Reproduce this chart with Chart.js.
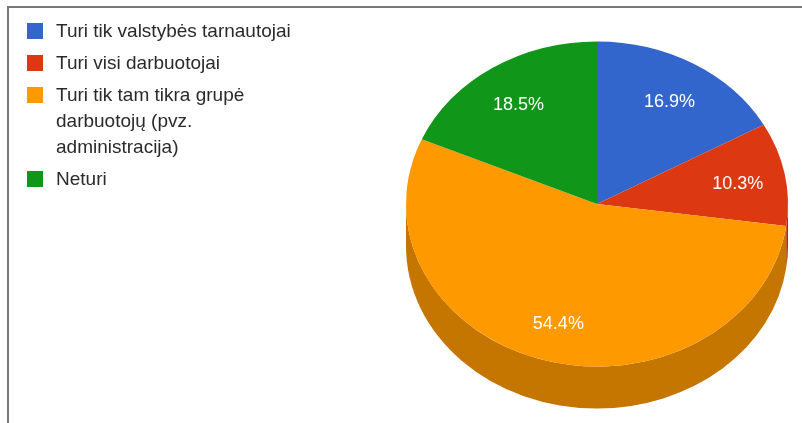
<!DOCTYPE html>
<html lang="lt">
<head>
<meta charset="UTF-8">
<title>Pasiskirstymas</title>
<script src="https://cdn.jsdelivr.net/npm/chart.js"></script>
<style>
  body { margin: 0; background: #fff; font-family: Arial, "Liberation Sans", sans-serif; }
  #wrap { position: relative; width: 802px; height: 423px; overflow: hidden; }
  #frame { position: absolute; left: 7px; top: 6px; right: -4px; bottom: -4px;
           border-top: 2px solid #777; border-left: 2px solid #777; }
  #grafikas { position: absolute; left: 0; top: 0; }
  #legenda { position: absolute; left: 27px; top: 18px; margin: 0; padding: 0; list-style: none; }
  #legenda li { position: relative; padding-left: 29px; width: 250px; font-size: 19px;
                line-height: 26px; color: #2a2a2a; margin-bottom: 6px; }
  #legenda span { position: absolute; left: 0; top: 5px; width: 16px; height: 16px; }
</style>
</head>
<body>
<div id="wrap">
  <div id="frame"></div>
  <canvas id="grafikas" width="802" height="423"></canvas>
  <ul id="legenda"></ul>
</div>

<script>
    const kategorijos = [
        'Turi tik valstybės tarnautojai',
        'Turi visi darbuotojai',
        'Turi tik tam tikra grupė darbuotojų (pvz. administracija)',
        'Neturi'
    ];
    const procentai = [16.9, 10.3, 54.4, 18.5];
    const spalvos = ['#3366cc', '#dc3912', '#ff9900', '#109618'];
    const soniniai = ['#284f9e', '#a82b0d', '#c47600', '#0c7312'];

    // pie looks tilted: top is squashed vertically, front rim drawn below it
    const suspaudimas = 0.851;
    const gylis = 42;

    const legenda = document.getElementById('legenda');
    kategorijos.forEach(function (k, i) {
        const li = document.createElement('li');
        const sp = document.createElement('span');
        sp.style.background = spalvos[i];
        li.appendChild(sp);
        li.appendChild(document.createTextNode(k));
        legenda.appendChild(li);
    });

    const trimatis = {
        id: 'trimatis',
        beforeDatasetsDraw(chart) {
            const ctx = chart.ctx;
            const lankai = chart.getDatasetMeta(0).data;
            const cx = lankai[0].x, cy = lankai[0].y, r = lankai[0].outerRadius;
            const ry = r * suspaudimas;
            // front rim
            lankai.forEach(function (a, i) {
                let s = a.startAngle, e = a.endAngle;
                [0, 2 * Math.PI, -2 * Math.PI].forEach(function (p) {
                    const a0 = Math.max(s, p), a1 = Math.min(e, p + Math.PI);
                    if (a1 <= a0) return;
                    ctx.beginPath();
                    ctx.ellipse(cx, cy, r, ry, 0, a0, a1);
                    ctx.ellipse(cx, cy + gylis, r, ry, 0, a1, a0, true);
                    ctx.closePath();
                    ctx.fillStyle = soniniai[i];
                    ctx.fill();
                });
            });
            ctx.save();
            ctx.translate(cx, cy);
            ctx.scale(1, suspaudimas);
            ctx.translate(-cx, -cy);
        },
        afterDatasetsDraw(chart) {
            const ctx = chart.ctx;
            ctx.restore();
            const lankai = chart.getDatasetMeta(0).data;
            ctx.save();
            ctx.fillStyle = '#ffffff';
            ctx.font = '18px Arial, "Liberation Sans", sans-serif';
            ctx.textAlign = 'center';
            ctx.textBaseline = 'middle';
            lankai.forEach(function (a, i) {
                const m = (a.startAngle + a.endAngle) / 2;
                const rr = a.outerRadius * 0.75;
                const x = a.x + rr * Math.cos(m);
                const y = a.y + rr * Math.sin(m) * suspaudimas + 3;
                ctx.fillText(procentai[i].toFixed(1) + '%', x, y);
            });
            ctx.restore();
        }
    };

    new Chart(document.getElementById('grafikas'), {
        type: 'pie',
        data: {
            labels: kategorijos,
            datasets: [{
                data: procentai,
                backgroundColor: spalvos,
                borderWidth: 0
            }]
        },
        options: {
            responsive: false,
            animation: false,
            layout: { padding: { left: 406, right: 14, top: 13, bottom: 28 } },
            plugins: {
                legend: { display: false },
                tooltip: { enabled: false }
            }
        },
        plugins: [trimatis]
    });
</script>
</body>
</html>
